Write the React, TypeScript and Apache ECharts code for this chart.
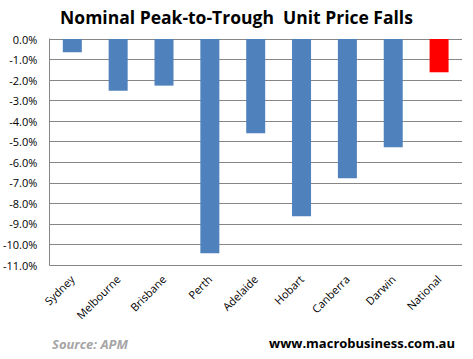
import React, { useEffect, useRef } from "react";
import * as echarts from "echarts";

const categories = ["Sydney", "Melbourne", "Brisbane", "Perth", "Adelaide", "Hobart", "Canberra", "Darwin", "National"];
const falls = [-0.65, -2.52, -2.27, -10.43, -4.59, -8.63, -6.78, -5.27, -1.62];
const barColors = ["#4F81BD", "#4F81BD", "#4F81BD", "#4F81BD", "#4F81BD", "#4F81BD", "#4F81BD", "#4F81BD", "#FF0000"];
const titleText = "Nominal Peak-to-Trough  Unit Price Falls";
const sourceText = "Source: APM";
const siteText = "www.macrobusiness.com.au";

export default function App() {
  const ref = useRef<HTMLDivElement>(null);
  useEffect(() => {
    if (!ref.current) return;
    const chart = echarts.init(ref.current, null, { renderer: "svg" });
    const font = "Open Sans";
    chart.setOption({
      animation: false,
      backgroundColor: "#FFFFFF",
      title: {
        text: titleText,
        left: "center",
        top: 3,
        textStyle: { fontFamily: font, fontSize: 17.5, fontWeight: "bold", color: "#000000" },
      },
      grid: { left: 48, right: 11, top: 39, bottom: 94, containLabel: false },
      xAxis: {
        type: "category",
        data: categories,
        position: "bottom",
        axisLine: { show: false, onZero: false },
        axisTick: { show: false },
        axisLabel: {
          rotate: 45,
          interval: 0,
          margin: 12,
          fontFamily: font,
          fontSize: 11,
          color: "#000000",
        },
      },
      yAxis: {
        type: "value",
        min: -11,
        max: 0,
        interval: 1,
        axisLine: { show: true, lineStyle: { color: "#868686", width: 1 } },
        axisTick: { show: false },
        splitLine: { show: true, lineStyle: { color: "#868686", width: 1 } },
        axisLabel: {
          margin: 12,
          fontFamily: font,
          fontSize: 11,
          color: "#000000",
          formatter: (v: number) => v.toFixed(1) + "%",
        },
      },
      series: [
        {
          type: "bar",
          barWidth: 19,
          data: falls.map((v, i) => ({ value: v, itemStyle: { color: barColors[i] } })),
        },
      ],
      graphic: [
        {
          type: "text",
          left: 52,
          top: 337,
          style: { text: sourceText, fontFamily: font, fontSize: 13, fontWeight: "bold", fontStyle: "italic", fill: "#A6A6A6" },
        },
        {
          type: "text",
          right: 18,
          top: 336,
          style: { text: siteText, fontFamily: font, fontSize: 13, fontWeight: "bold", fill: "#000000" },
        },
      ],
    });
    return () => chart.dispose();
  }, []);
  return <div ref={ref} style={{ position: "fixed", left: 0, top: 0, width: 473, height: 359 }} />;
}
